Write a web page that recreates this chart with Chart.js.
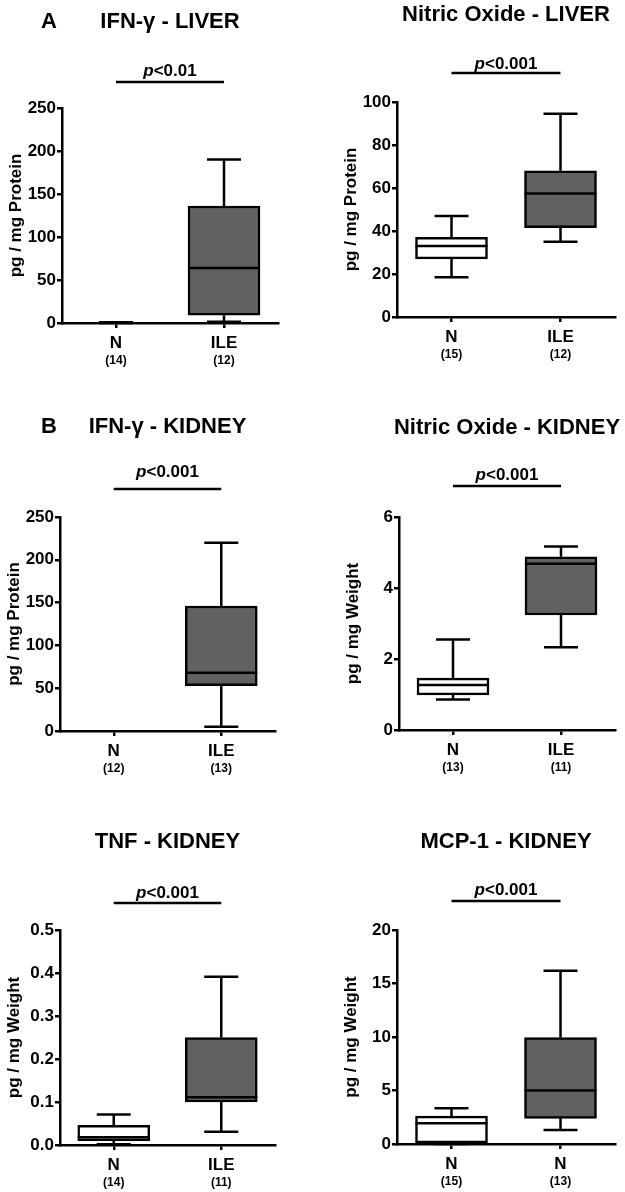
<!DOCTYPE html>
<html lang="en">
<head>
<meta charset="UTF-8">
<title>IFN-γ, Nitric Oxide, TNF, MCP-1 - liver and kidney</title>
<script src="https://cdn.jsdelivr.net/npm/chart.js"></script>
<style>
  body { margin: 0; background: #ffffff; }
  canvas { position: absolute; }
</style>
</head>
<body>
<script>
// groups on the x axis
const groups = ['N', 'ILE'];
const mcpGroups = ['N', 'N'];

// box stats per group: [min, q1, median, q3, max]
const ifnLiverN = [0, 0, 0, 0, 1];
const ifnLiverILE = [1.5, 9, 64, 136, 190];
const noLiverN = [18.5, 27, 33, 37, 47];
const noLiverILE = [35, 41.5, 57.5, 68, 94.5];
const ifnKidneyN = [0, 0, 0, 0, 0];
const ifnKidneyILE = [5, 53, 68, 146, 220];
const noKidneyN = [0.86, 0.99, 1.27, 1.46, 2.55];
const noKidneyILE = [2.33, 3.24, 4.68, 4.88, 5.17];
const tnfKidneyN = [0.002, 0.01, 0.018, 0.046, 0.071];
const tnfKidneyILE = [0.031, 0.1, 0.111, 0.25, 0.391];
const mcpKidneyN = [0, 0.1, 1.95, 2.6, 3.35];
const mcpKidneyILE = [1.3, 2.4, 5.0, 9.95, 16.2];

// group sizes
const ifnLiverCounts = ['(14)', '(12)'];
const noLiverCounts = ['(15)', '(12)'];
const ifnKidneyCounts = ['(12)', '(13)'];
const noKidneyCounts = ['(13)', '(11)'];
const tnfKidneyCounts = ['(14)', '(11)'];
const mcpKidneyCounts = ['(15)', '(13)'];

// y ticks
const ifnTicks = [0, 50, 100, 150, 200, 250];
const noLiverTicks = [0, 20, 40, 60, 80, 100];
const noKidneyTicks = [0, 2, 4, 6];
const tnfTicks = [0, 0.1, 0.2, 0.3, 0.4, 0.5];
const tnfTickLabels = ['0.0', '0.1', '0.2', '0.3', '0.4', '0.5'];
const mcpTicks = [0, 5, 10, 15, 20];

const FONT = "'Liberation Sans', Arial, sans-serif";
Chart.defaults.font.family = FONT;
Chart.defaults.color = '#000';

const panels = [
  { title: 'IFN-γ - LIVER', letter: 'A', p: '<0.01', yTitle: 'pg / mg Protein', labels: groups,
    stats: [ifnLiverN, ifnLiverILE], counts: ifnLiverCounts, ticks: ifnTicks,
    left: 0, top: 0, w: 310, h: 380, axisX: 62, axisTop: 108, axisBottom: 323, axisRight: 278,
    titleY: 22, pY: 76, lineY: 82 },
  { title: 'Nitric Oxide - LIVER', p: '<0.001', yTitle: 'pg / mg Protein', labels: groups,
    stats: [noLiverN, noLiverILE], counts: noLiverCounts, ticks: noLiverTicks,
    left: 310, top: 0, w: 315, h: 380, axisX: 397, axisTop: 102, axisBottom: 317, axisRight: 615,
    titleY: 15, pY: 69, lineY: 73 },
  { title: 'IFN-γ - KIDNEY', letter: 'B', p: '<0.001', yTitle: 'pg / mg Protein', labels: groups,
    stats: [ifnKidneyN, ifnKidneyILE], counts: ifnKidneyCounts, ticks: ifnTicks,
    left: 0, top: 380, w: 310, h: 400, axisX: 60, axisTop: 517, axisBottom: 731, axisRight: 275,
    titleY: 427, pY: 477, lineY: 489 },
  { title: 'Nitric Oxide - KIDNEY', p: '<0.001', yTitle: 'pg / mg Weight', labels: groups,
    stats: [noKidneyN, noKidneyILE], counts: noKidneyCounts, ticks: noKidneyTicks,
    left: 310, top: 380, w: 315, h: 400, axisX: 399, axisTop: 517, axisBottom: 730, axisRight: 615,
    titleY: 428, pY: 480, lineY: 486 },
  { title: 'TNF - KIDNEY', p: '<0.001', yTitle: 'pg / mg Weight', labels: groups,
    stats: [tnfKidneyN, tnfKidneyILE], counts: tnfKidneyCounts, ticks: tnfTicks, tickLabels: tnfTickLabels,
    left: 0, top: 780, w: 310, h: 412, axisX: 60, axisTop: 930, axisBottom: 1145, axisRight: 275,
    titleY: 842, pY: 898, lineY: 903 },
  { title: 'MCP-1 - KIDNEY', p: '<0.001', yTitle: 'pg / mg Weight', labels: mcpGroups,
    stats: [mcpKidneyN, mcpKidneyILE], counts: mcpKidneyCounts, ticks: mcpTicks,
    left: 310, top: 780, w: 315, h: 412, axisX: 397, axisTop: 930, axisBottom: 1144, axisRight: 615,
    titleY: 842, pY: 895, lineY: 901 }
];

const Y_AXIS_W = 56;
const LINE_W = 2.5;
const BOX_W = 72;
const CAP_HALF = 17;

// whiskers behind the boxes, medians on top, then texts
const boxPlot = {
  id: 'boxPlot',
  beforeDatasetsDraw(chart, args, o) {
    const { ctx, scales: { x, y } } = chart;
    ctx.save();
    ctx.strokeStyle = '#000';
    ctx.lineWidth = LINE_W;
    o.stats.forEach((s, i) => {
      if (s[4] === s[0]) return; // all values equal: nothing to show
      const px = x.getPixelForValue(i);
      const yMin = y.getPixelForValue(s[0]), yMax = y.getPixelForValue(s[4]);
      ctx.beginPath();
      ctx.moveTo(px, y.getPixelForValue(s[3])); ctx.lineTo(px, yMax);
      ctx.moveTo(px, y.getPixelForValue(s[1])); ctx.lineTo(px, yMin);
      ctx.moveTo(px - CAP_HALF, yMax); ctx.lineTo(px + CAP_HALF, yMax);
      ctx.moveTo(px - CAP_HALF, yMin); ctx.lineTo(px + CAP_HALF, yMin);
      ctx.stroke();
    });
    ctx.restore();
  },
  afterDatasetsDraw(chart, args, o) {
    const { ctx, scales: { x, y } } = chart;
    ctx.save();
    ctx.strokeStyle = '#000';
    ctx.lineWidth = LINE_W;
    o.stats.forEach((s, i) => {
      if (s[3] === s[1]) return; // collapsed box
      const px = x.getPixelForValue(i);
      const ym = y.getPixelForValue(s[2]);
      ctx.beginPath();
      ctx.moveTo(px - BOX_W / 2, ym); ctx.lineTo(px + BOX_W / 2, ym);
      ctx.stroke();
    });
    ctx.restore();
  },
  afterDraw(chart, args, o) {
    const { ctx, chartArea, scales: { x } } = chart;
    const cx = (chartArea.left + chartArea.right) / 2;
    ctx.save();
    ctx.fillStyle = '#000';
    ctx.textBaseline = 'middle';
    ctx.textAlign = 'center';
    ctx.font = 'bold 22px ' + FONT;
    ctx.fillText(o.title, cx, o.titleY - o.top);
    if (o.letter) ctx.fillText(o.letter, 49 - o.left, o.titleY - o.top);

    // significance bar
    const x0 = x.getPixelForValue(0), x1 = x.getPixelForValue(1);
    ctx.strokeStyle = '#000';
    ctx.lineWidth = LINE_W;
    ctx.beginPath();
    ctx.moveTo(x0, o.lineY - o.top); ctx.lineTo(x1, o.lineY - o.top);
    ctx.stroke();

    ctx.textBaseline = 'alphabetic';
    ctx.textAlign = 'left';
    const italic = 'italic bold 17px ' + FONT, plain = 'bold 17px ' + FONT;
    ctx.font = italic;
    const wp = ctx.measureText('p').width;
    ctx.font = plain;
    const wr = ctx.measureText(o.p).width;
    const sx = (x0 + x1) / 2 - (wp + wr) / 2;
    ctx.font = italic;
    ctx.fillText('p', sx, o.pY - o.top);
    ctx.font = plain;
    ctx.fillText(o.p, sx + wp, o.pY - o.top);

    // group sizes
    ctx.textAlign = 'center';
    ctx.textBaseline = 'middle';
    ctx.font = 'bold 12px ' + FONT;
    o.counts.forEach((c, i) => {
      ctx.fillText(c, x.getPixelForValue(i), o.axisBottom + 38 - o.top);
    });
    ctx.restore();
  }
};

panels.forEach(cfg => {
  const canvas = document.createElement('canvas');
  canvas.width = cfg.w;
  canvas.height = cfg.h;
  canvas.style.left = cfg.left + 'px';
  canvas.style.top = cfg.top + 'px';
  canvas.style.width = cfg.w + 'px';
  canvas.style.height = cfg.h + 'px';
  document.body.appendChild(canvas);

  const tickFont = { size: 17, weight: 'bold' };
  const axisGrid = { drawOnChartArea: false, drawTicks: true, tickLength: 5, lineWidth: LINE_W, color: '#000' };

  new Chart(canvas, {
    type: 'bar',
    data: {
      labels: cfg.labels,
      datasets: [{
        data: cfg.stats.map(s => s[3] > s[1] ? [s[1], s[3]] : null),
        backgroundColor: ['#ffffff', '#616161'],
        borderColor: '#000',
        borderWidth: LINE_W,
        borderSkipped: false,
        barThickness: BOX_W
      }]
    },
    options: {
      responsive: false,
      animation: false,
      devicePixelRatio: 1,
      layout: {
        padding: {
          left: cfg.axisX - cfg.left - Y_AXIS_W,
          top: cfg.axisTop - cfg.top,
          right: cfg.left + cfg.w - cfg.axisRight,
          bottom: 0
        }
      },
      plugins: {
        legend: { display: false },
        tooltip: { enabled: false },
        boxPlot: cfg
      },
      scales: {
        x: {
          type: 'category',
          offset: true,
          grid: Object.assign({ offset: false }, axisGrid),
          border: { color: '#000', width: LINE_W },
          ticks: { font: tickFont, color: '#000', padding: 5, maxRotation: 0 },
          afterFit: s => { s.height = cfg.h - (cfg.axisBottom - cfg.top); }
        },
        y: {
          type: 'linear',
          min: cfg.ticks[0],
          max: cfg.ticks[cfg.ticks.length - 1],
          grid: axisGrid,
          border: { color: '#000', width: LINE_W },
          afterBuildTicks: s => { s.ticks = cfg.ticks.map(v => ({ value: v })); },
          ticks: {
            font: tickFont, color: '#000', padding: 1,
            callback: (v, i) => cfg.tickLabels ? cfg.tickLabels[i] : v
          },
          title: {
            display: true, text: cfg.yTitle, color: '#000',
            font: { size: 17, weight: 'bold', lineHeight: 1.2 }, padding: 0
          },
          afterFit: s => { s.width = Y_AXIS_W; }
        }
      }
    },
    plugins: [boxPlot]
  });
});
</script>
</body>
</html>
